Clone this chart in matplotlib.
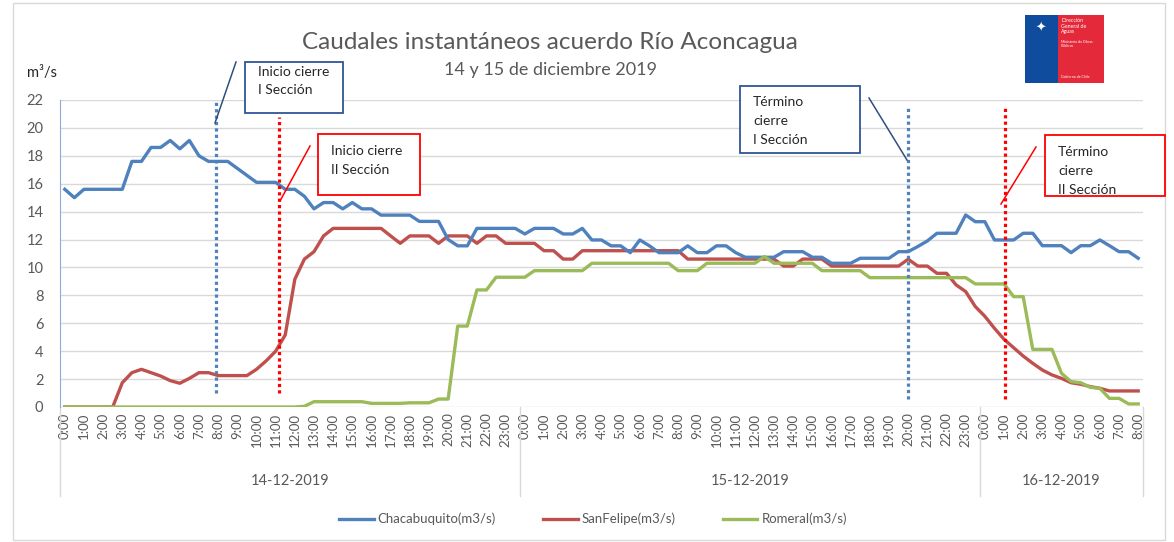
import numpy as np
import matplotlib.pyplot as plt
from matplotlib.patches import Rectangle
from matplotlib.lines import Line2D

plt.rcParams["font.family"] = ["Lato", "DejaVu Sans"]

# half-hourly readings, 14-12-2019 0:00 -> 16-12-2019 8:00
chacabuquito = [
    15.6, 15.0, 15.6, 15.6, 15.6, 15.6, 15.6, 17.6, 17.6, 18.6, 18.6, 19.1, 18.5, 19.1, 18.0, 17.6,
    17.6, 17.6, 17.1, 16.6, 16.1, 16.1, 16.1, 15.6, 15.6, 15.1, 14.2, 14.65, 14.65, 14.2, 14.65, 14.2,
    14.2, 13.75, 13.75, 13.75, 13.75, 13.3, 13.3, 13.3, 12.0, 11.55, 11.55, 12.8, 12.8, 12.8, 12.8, 12.8,
    12.4, 12.8, 12.8, 12.8, 12.4, 12.4, 12.8, 11.97, 11.97, 11.55, 11.55, 11.06, 11.97, 11.55, 11.06, 11.06,
    11.06, 11.55, 11.06, 11.06, 11.55, 11.55, 11.06, 10.73, 10.73, 10.73, 10.73, 11.13, 11.13, 11.13, 10.73, 10.73,
    10.3, 10.3, 10.3, 10.66, 10.66, 10.66, 10.66, 11.13, 11.13, 11.5, 11.9, 12.45, 12.45, 12.45, 13.76, 13.28,
    13.28, 11.97, 11.97, 11.97, 12.45, 12.45, 11.56, 11.56, 11.56, 11.06, 11.56, 11.56, 11.97, 11.56, 11.13, 11.13,
    10.66,
]
san_felipe = [
    0, 0, 0, 0, 0, 0, 1.74, 2.46, 2.7, 2.46, 2.22, 1.89, 1.7, 2.05, 2.46, 2.46,
    2.25, 2.25, 2.25, 2.25, 2.7, 3.3, 4.0, 5.16, 9.15, 10.6, 11.13, 12.26, 12.8, 12.8, 12.8, 12.8,
    12.8, 12.8, 12.26, 11.73, 12.26, 12.26, 12.26, 11.73, 12.26, 12.26, 12.26, 11.73, 12.26, 12.26, 11.73, 11.73,
    11.73, 11.73, 11.2, 11.2, 10.6, 10.6, 11.2, 11.2, 11.2, 11.2, 11.2, 11.2, 11.2, 11.2, 11.2, 11.2,
    11.2, 10.6, 10.6, 10.6, 10.6, 10.6, 10.6, 10.6, 10.6, 10.6, 10.6, 10.1, 10.1, 10.6, 10.6, 10.6,
    10.1, 10.1, 10.1, 10.1, 10.1, 10.1, 10.1, 10.1, 10.59, 10.1, 10.1, 9.58, 9.58, 8.75, 8.27, 7.2,
    6.5, 5.64, 4.85, 4.25, 3.65, 3.13, 2.65, 2.3, 2.05, 1.74, 1.63, 1.46, 1.34, 1.15, 1.15, 1.15,
    1.15,
]
romeral = [
    0, 0, 0, 0, 0, 0, 0, 0, 0, 0, 0, 0, 0, 0, 0, 0,
    0, 0, 0, 0, 0, 0, 0, 0, 0, 0.05, 0.38, 0.38, 0.38, 0.38, 0.38, 0.38,
    0.26, 0.26, 0.26, 0.26, 0.3, 0.3, 0.3, 0.57, 0.57, 5.8, 5.8, 8.39, 8.39, 9.3, 9.3, 9.3,
    9.3, 9.77, 9.77, 9.77, 9.77, 9.77, 9.77, 10.3, 10.3, 10.3, 10.3, 10.3, 10.3, 10.3, 10.3, 10.3,
    9.77, 9.77, 9.77, 10.3, 10.3, 10.3, 10.3, 10.3, 10.3, 10.78, 10.3, 10.3, 10.3, 10.3, 10.3, 9.77,
    9.77, 9.77, 9.77, 9.77, 9.27, 9.27, 9.27, 9.27, 9.27, 9.27, 9.27, 9.27, 9.27, 9.27, 9.27, 8.82,
    8.82, 8.82, 8.82, 7.91, 7.91, 4.13, 4.13, 4.13, 2.41, 1.82, 1.74, 1.41, 1.34, 0.62, 0.62, 0.22,
    0.22,
]
dates = ["14-12-2019", "15-12-2019", "16-12-2019"]
hours = np.arange(len(chacabuquito)) * 0.5
tick_hours = np.arange(0, 57)
tick_labels = [f"{h % 24}:00" for h in tick_hours]

W, H = 1174, 542


def fx(x):
    return x / W


def fy(y):
    return 1 - y / H


fig = plt.figure(figsize=(W / 100, H / 100), dpi=100)
fig.patches.append(Rectangle((fx(13), fy(540)), fx(1165) - fx(13), fy(3) - fy(540),
                             transform=fig.transFigure, fill=False, ec="#d9d9d9", lw=1))

ax = fig.add_axes([fx(60), fy(407), fx(1143) - fx(60), fy(100) - fy(407)])
c_blue, c_red, c_green = "#4f81bd", "#c0504d", "#9bbb59"
ax.plot(hours, chacabuquito, color=c_blue, lw=2.4, label="Chacabuquito(m3/s)", zorder=4)
ax.plot(hours, san_felipe, color=c_red, lw=2.4, label="SanFelipe(m3/s)", zorder=3)
ax.plot(hours, romeral, color=c_green, lw=2.4, label="Romeral(m3/s)", zorder=5)

ax.set_xlim(-0.25, 56.25)
ax.set_ylim(0, 22)
ax.set_yticks(range(0, 23, 2))
ax.grid(axis="y", color="#d9d9d9", lw=1)
ax.set_axisbelow(True)
for s in ["top", "right", "bottom"]:
    ax.spines[s].set_visible(False)
ax.spines["left"].set_color("#8eaadb")
ax.tick_params(axis="y", length=0, labelsize=10.5, labelcolor="#595959", pad=12)
ax.set_xticks(tick_hours)
ax.set_xticklabels(tick_labels, rotation=90, fontsize=9.5, color="#595959")
ax.tick_params(axis="x", length=0, pad=4)

# day group separators and labels
for xs in [-0.25, 23.75, 47.75, 56.25]:
    ax.plot([xs, xs], [0, -0.29], transform=ax.get_xaxis_transform(), color="#d9d9d9",
            lw=1, clip_on=False)
for (a, b), d in zip([(-0.25, 23.75), (23.75, 47.75), (47.75, 56.25)], dates):
    ax.text((a + b) / 2, -0.24, d, transform=ax.get_xaxis_transform(), ha="center",
            va="center", fontsize=10.5, color="#595959")

# closing markers
ax.plot([7.9, 7.9], [1.0, 22], color="#4f81bd", lw=2.3, dashes=(1, 1), zorder=6)
ax.plot([11.2, 11.2], [1.0, 20.8], color="#ff0000", lw=2.3, dashes=(1, 1), zorder=6)
ax.plot([44, 44], [0.55, 21.5], color="#4f81bd", lw=2.3, dashes=(1, 1), zorder=6)
ax.plot([49.05, 49.05], [0.55, 21.4], color="#ff0000", lw=2.3, dashes=(1, 1), zorder=6)

# callout boxes
boxes = [
    (245, 62, 343, 113, "#2f5597", ["Inicio cierre", "I Sección"], (236, 62, 215, 123)),
    (318, 134, 420, 195, "#ff0000", ["Inicio cierre", "II Sección"], (310, 146, 280, 201)),
    (740, 86, 860, 153, "#2f5597", ["Término", "cierre", "I Sección"], (869, 98, 907, 160)),
    (1045, 135, 1165, 196, "#ff0000", ["Término", "cierre", "II Sección"], (1036, 147, 1001, 204)),
]
for x0, y0, x1, y1, col, lines, (lx0, ly0, lx1, ly1) in boxes:
    fig.patches.append(Rectangle((fx(x0), fy(y1)), fx(x1) - fx(x0), fy(y0) - fy(y1),
                                 transform=fig.transFigure, fill=True, fc="white", ec=col, lw=1.3,
                                 zorder=10))
    step = 19 if len(lines) == 3 else 18.5
    ty = y0 + 10 if len(lines) == 2 else y0 + 16
    if col == "#ff0000":
        ty = y0 + 17
    for k, t in enumerate(lines):
        fig.text(fx(x0 + 13), fy(ty + k * step), t, fontsize=10, color="#262626",
                 va="center", ha="left", zorder=11)
    fig.lines.append(Line2D([fx(lx0), fx(lx1)], [fy(ly0), fy(ly1)], transform=fig.transFigure,
                            color="#2f4f7f" if col != "#ff0000" else "#ff0000", lw=1.1))

# titles
fig.text(fx(550), fy(42), "Caudales instantáneos acuerdo Río Aconcagua", ha="center",
         va="center", fontsize=17.5, color="#595959")
fig.text(fx(550), fy(70), "14 y 15 de diciembre 2019", ha="center", va="center",
         fontsize=13, color="#595959")
fig.text(fx(27), fy(73), "m³/s", ha="left", va="center", fontsize=10.5, color="#262626")

# logo
fig.patches.append(Rectangle((fx(1025), fy(83)), fx(1058) - fx(1025), fy(15) - fy(83),
                             transform=fig.transFigure, fc="#0f4c9e", ec="none"))
fig.patches.append(Rectangle((fx(1058), fy(83)), fx(1104) - fx(1058), fy(15) - fy(83),
                             transform=fig.transFigure, fc="#e4293b", ec="none"))
fig.text(fx(1041), fy(28), "✦", ha="center", va="center", fontsize=9, color="white")
fig.text(fx(1061), fy(26), "Dirección\nGeneral de\nAguas", ha="left", va="center",
         fontsize=3.8, color="white", linespacing=1.0)
fig.text(fx(1061), fy(44), "Ministerio de Obras\nPúblicas", ha="left", va="center",
         fontsize=2.6, color="white", linespacing=1.0)
fig.text(fx(1061), fy(77), "Gobierno de Chile", ha="left", va="center",
         fontsize=2.6, color="white")

fig.legend(loc="center", bbox_to_anchor=(fx(593), fy(519)), ncol=3, frameon=False,
           fontsize=9.5, handlelength=2.6, columnspacing=3.6, handletextpad=0.3,
           labelcolor="#595959")

fig.savefig("out.png", dpi=100)
